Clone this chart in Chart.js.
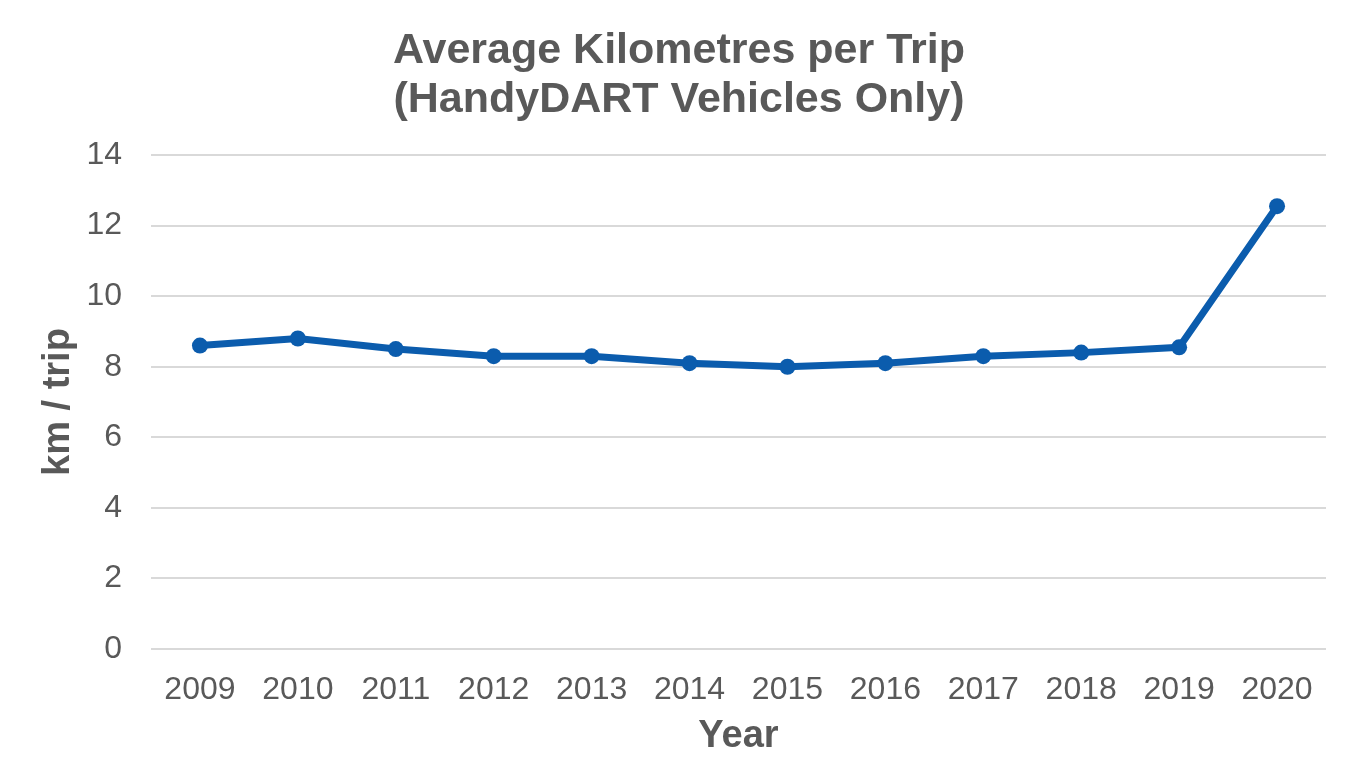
<!DOCTYPE html>
<html>
<head>
<meta charset="utf-8">
<script src="https://cdn.jsdelivr.net/npm/chart.js@4"></script>
<style>
  html, body { margin: 0; padding: 0; background: #fff; }
  canvas { display: block; }
</style>
</head>
<body>
<canvas id="km-chart" width="1351" height="784"></canvas>
<script>
var years = ["2009", "2010", "2011", "2012", "2013", "2014", "2015", "2016", "2017", "2018", "2019", "2020"];
var kmPerTrip = [8.6, 8.8, 8.5, 8.3, 8.3, 8.1, 8.0, 8.1, 8.3, 8.4, 8.55, 12.55];
var yMin = 0, yMax = 14, yStep = 2;

var grey = "#595959";
var blue = "#0b5cad";
var font = "'Liberation Sans', Arial, sans-serif";

var ctx = document.getElementById("km-chart").getContext("2d");
var myChart = new Chart(ctx, {
  type: "line",
  data: {
    labels: years,
    datasets: [{
      label: "km / trip",
      data: kmPerTrip,
      borderColor: blue,
      backgroundColor: blue,
      borderWidth: 7,
      pointRadius: 8,
      pointBorderWidth: 0,
      pointBackgroundColor: blue,
      tension: 0
    }]
  },
  options: {
    responsive: false,
    animation: false,
    // left padding pulls the title centre to the right like the original
    layout: { padding: { top: 0, left: 32, right: 25, bottom: 0 } },
    plugins: {
      legend: { display: false },
      tooltip: { enabled: false },
      title: {
        display: true,
        text: ["Average Kilometres per Trip", "(HandyDART Vehicles Only)"],
        color: grey,
        font: { family: font, size: 43, weight: "bold", lineHeight: 1.14 },
        padding: { top: 27, bottom: 30 }
      }
    },
    scales: {
      x: {
        offset: true,
        grid: { display: false, drawTicks: false },
        border: { display: false },
        ticks: {
          color: grey,
          padding: 22,
          maxRotation: 0,
          font: { family: font, size: 32 }
        },
        title: {
          display: true,
          text: "Year",
          color: grey,
          font: { family: font, size: 38, weight: "bold" },
          padding: { top: 0, bottom: 25 }
        },
        afterFit: function (scale) { scale.height = 135; }
      },
      y: {
        min: yMin,
        max: yMax,
        grid: { color: "#d9d9d9", lineWidth: 2, drawTicks: false },
        border: { display: false },
        ticks: {
          stepSize: yStep,
          color: grey,
          padding: 29,
          font: { family: font, size: 32 }
        },
        title: {
          display: true,
          text: "km / trip",
          color: grey,
          font: { family: font, size: 38, weight: "bold" },
          padding: { top: 4, bottom: 0 }
        },
        afterFit: function (scale) { scale.width = 119; }
      }
    }
  }
});
</script>
</body>
</html>
